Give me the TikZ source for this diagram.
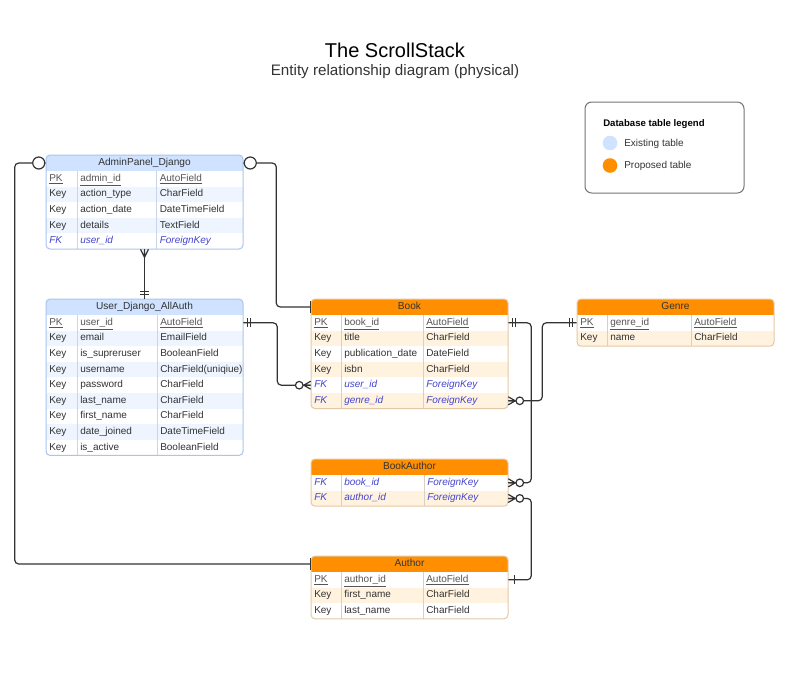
\documentclass[tikz,border=0pt]{standalone}
\usepackage{fontspec}
\setmainfont{Liberation Sans}
\usetikzlibrary{calc}
\definecolor{exhead}{HTML}{CFE2FF}
\definecolor{exalt}{HTML}{EEF5FF}
\definecolor{exborder}{HTML}{A9C4EE}
\definecolor{exsep}{HTML}{C9D6EA}
\definecolor{prhead}{HTML}{FF8F00}
\definecolor{pralt}{HTML}{FFF3E0}
\definecolor{prborder}{HTML}{E3C8A8}
\definecolor{prsep}{HTML}{D9CFC4}
\definecolor{tcol}{HTML}{333333}
\definecolor{pkcol}{HTML}{555555}
\definecolor{fkcol}{HTML}{4545D0}
\definecolor{lncol}{HTML}{333333}
\newcommand\fmtpk[1]{\textcolor{pkcol}{\underline{#1}}}
\newcommand\fmtkey[1]{#1}
\newcommand\fmtfk[1]{\textcolor{fkcol}{\itshape #1}}
\tikzset{
  cell/.style={anchor=west, inner sep=0pt, text height=5.4pt, text depth=1.6pt, font=\fontsize{7.5}{9}\selectfont, text=tcol},
  hdr/.style={inner sep=0pt, minimum width=147.75pt, minimum height=12pt, text height=5.4pt, text depth=1.6pt, font=\fontsize{7.6}{9}\selectfont, text=tcol},
  rowbox/.style={inner sep=0pt, minimum width=147.75pt, minimum height=11.7pt},
  conn/.style={draw=lncol, line width=0.9pt, rounded corners=3pt},
  mk/.style={draw=lncol, line width=0.9pt},
}
% #1 name, #2 x, #3 y, #4 kind, #5 sepA, #6 sepB, #7 title, #8 nrows, #9 rows
\newcommand\ertable[9]{%
  \pgfmathsetmacro\tbh{16+15.6*#8}
  \begin{scope}
    \clip[rounded corners=3pt] (#2,#3) rectangle ++(197,\tbh);
    \fill[white] (#2,#3) rectangle ++(197,\tbh);
    \fill[#4head] (#2,#3) rectangle ++(197,16);
    \foreach \rs/\ra/\rb/\rc [count=\ri] in {#9} {
      \ifodd\ri\relax\else
        \fill[#4alt] (#2,#3+0.4+15.6*\ri) rectangle ++(197,15.6);
      \fi
    }
  \end{scope}
  \draw[#4sep, line width=0.5pt] (#2+#5,#3+16) -- (#2+#5,#3+\tbh);
  \draw[#4sep, line width=0.5pt] (#2+#6,#3+16) -- (#2+#6,#3+\tbh);
  \draw[#4border, line width=0.75pt, rounded corners=3pt] (#2,#3) rectangle ++(197,\tbh);
  \node[hdr] (#1-h) at (#2+98.5,#3+8) {#7};
  \foreach \rs/\ra/\rb/\rc [count=\ri] in {#9} {
    \node[rowbox] (#1-\ri) at (#2+98.5,#3+8.2+15.6*\ri) {};
    \node[cell] at (#2+3,#3+8.2+15.6*\ri) {\csname fmt\rs\endcsname{\ra}};
    \node[cell] at (#2+#5+3,#3+8.2+15.6*\ri) {\csname fmt\rs\endcsname{\rb}};
    \node[cell] at (#2+#6+3,#3+8.2+15.6*\ri) {\csname fmt\rs\endcsname{\rc}};
  }
}
% markers
\newcommand\crowzero[2]{\begin{scope}[shift={(#1)}, xscale=#2]
  \draw[mk] (7,0) -- (0,-4) (7,0) -- (0,4) (7,0) -- (0,0);
  \draw[mk, fill=white] (11.5,0) circle[radius=3.8];
\end{scope}}
\newcommand\dbar[2]{\begin{scope}[shift={(#1)}, xscale=#2]
  \draw[mk] (4,-4.5) -- (4,4.5) (7,-4.5) -- (7,4.5);
\end{scope}}
\newcommand\sbar[2]{\begin{scope}[shift={(#1)}, xscale=#2]
  \draw[mk] (6,-4.5) -- (6,4.5);
\end{scope}}
\newcommand\bigzero[2]{\begin{scope}[shift={(#1)}, xscale=#2]
  \draw[mk, fill=white] (7,0) circle[radius=6];
\end{scope}}
\newcommand\edgetick[1]{\begin{scope}[shift={(#1)}]
  \draw[mk] (0,-6) -- (0,6);
\end{scope}}
\begin{document}
\begin{tikzpicture}[x=0.75pt, y=-0.75pt]
\useasboundingbox (0,0) rectangle (800,672);
% titles
\node[font=\fontsize{15}{18}\selectfont, text=black] (title) at (395,50) {The ScrollStack};
\node[font=\fontsize{11.4}{13}\selectfont, text=tcol] (subtitle) at (395,72) {Entity relationship diagram (physical)};
% legend
\node[draw=gray!90!black, line width=0.75pt, rounded corners=5pt, minimum width=119.25pt, minimum height=68.25pt, inner sep=0pt] (legend) at (664.5,147.5) {};
\node[anchor=west, inner sep=0pt, font=\fontsize{7.2}{9}\selectfont\bfseries, text=black] (legtitle) at (603,124) {Database table legend};
\fill[exhead] (610,143) circle[radius=7.3];
\fill[prhead] (610,165.5) circle[radius=7.3];
\node[anchor=west, inner sep=0pt, font=\fontsize{7.5}{9}\selectfont, text=tcol] (legex) at (624,144) {Existing table};
\node[anchor=west, inner sep=0pt, font=\fontsize{7.5}{9}\selectfont, text=tcol] (legpr) at (624,166) {Proposed table};
% tables
\ertable{admin}{46}{155}{ex}{31}{110.5}{AdminPanel\_Django}{5}{pk/PK/admin\_id/AutoField, key/Key/action\_type/CharField, key/Key/action\_date/DateTimeField, key/Key/details/TextField, fk/FK/user\_id/ForeignKey}
\ertable{user}{46}{299}{ex}{31}{111}{User\_Django\_AllAuth}{9}{pk/PK/user\_id/AutoField, key/Key/email/EmailField, key/Key/is\_supreruser/BooleanField, key/Key/username/CharField(uniqiue), key/Key/password/CharField, key/Key/last\_name/CharField, key/Key/first\_name/CharField, key/Key/date\_joined/DateTimeField, key/Key/is\_active/BooleanField}
\ertable{book}{311}{299}{pr}{30}{112}{Book}{6}{pk/PK/book\_id/AutoField, key/Key/title/CharField, key/Key/publication\_date/DateField, key/Key/isbn/CharField, fk/FK/user\_id/ForeignKey, fk/FK/genre\_id/ForeignKey}
\ertable{genre}{577}{299}{pr}{30}{114}{Genre}{2}{pk/PK/genre\_id/AutoField, key/Key/name/CharField}
\ertable{ba}{311}{459}{pr}{30}{113}{BookAuthor}{2}{fk/FK/book\_id/ForeignKey, fk/FK/author\_id/ForeignKey}
\ertable{author}{311}{556}{pr}{30}{112}{Author}{3}{pk/PK/author\_id/AutoField, key/Key/first\_name/CharField, key/Key/last\_name/CharField}
% connectors
\draw[conn] (admin-h.west) -- ++(-31,0) |- (author-h.west);
\draw[conn] (admin-h.east) -- ++(33,0) |- (book-h.west);
\draw[conn] (admin-5.south) -- (user-h.north);
\draw[conn] (user-1.east) -- ++(34,0) |- (book-5.west);
\draw[conn] (book-1.east) -- ++(23,0) |- (ba-1.east);
\draw[conn] (book-6.east) -- ++(34,0) |- (genre-1.west);
\draw[conn] (ba-2.east) -- ++(23,0) |- (author-1.east);
% markers
\bigzero{admin-h.west}{-1}
\edgetick{author-h.west}
\bigzero{admin-h.east}{1}
\edgetick{book-h.west}
\begin{scope}[shift={(admin-5.south)}]
  \draw[mk] (0,8) -- (-4,0) (0,8) -- (4,0) (0,8) -- (0,0);
\end{scope}
\begin{scope}[shift={(user-h.north)}]
  \draw[mk] (-4.5,-4) -- (4.5,-4) (-4.5,-7) -- (4.5,-7);
\end{scope}
\dbar{user-1.east}{1}
\crowzero{book-5.west}{-1}
\dbar{book-1.east}{1}
\crowzero{ba-1.east}{1}
\crowzero{book-6.east}{1}
\dbar{genre-1.west}{-1}
\crowzero{ba-2.east}{1}
\sbar{author-1.east}{1}
\end{tikzpicture}
\end{document}
